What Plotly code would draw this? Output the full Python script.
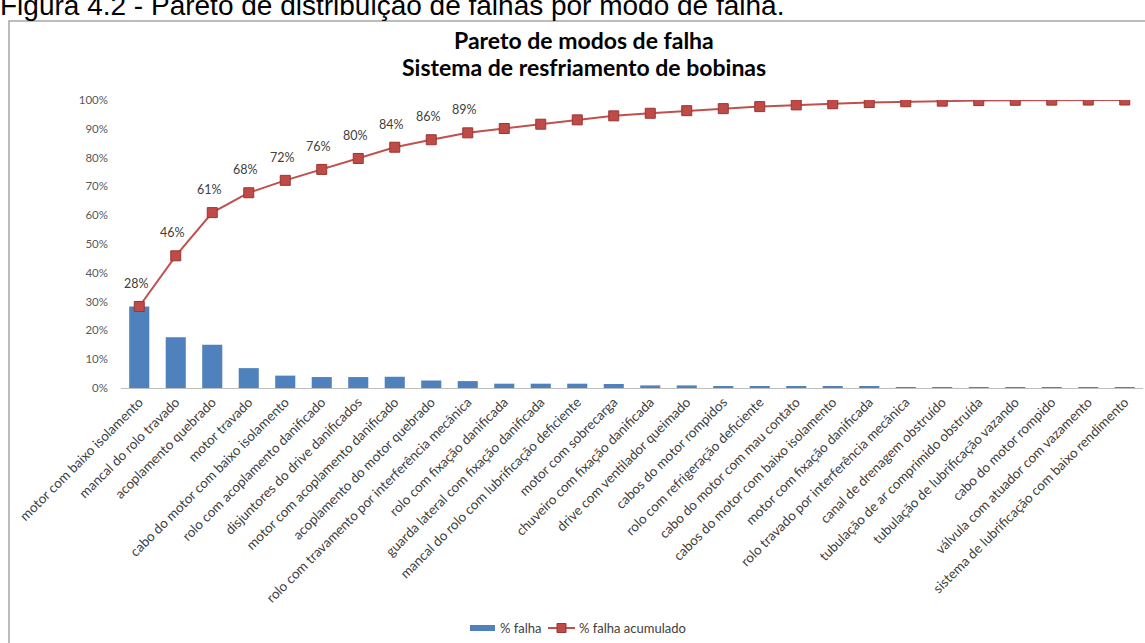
import plotly.graph_objects as go
import numpy as np

# Failure modes, ordered from most to least frequent
modos = [
    "motor com baixo isolamento",
    "mancal do rolo travado",
    "acoplamento quebrado",
    "motor travado",
    "cabo do motor com baixo isolamento",
    "rolo com acoplamento danificado",
    "disjuntores do drive danificados",
    "motor com acoplamento danificado",
    "acoplamento do motor quebrado",
    "rolo com travamento por interferência mecânica",
    "rolo com fixação danificada",
    "guarda lateral com fixação danificada",
    "mancal do rolo com lubrificação deficiente",
    "motor com sobrecarga",
    "chuveiro com fixação danificada",
    "drive com ventilador queimado",
    "cabos do motor rompidos",
    "rolo com refrigeração deficiente",
    "cabo do motor com mau contato",
    "cabos do motor com baixo isolamento",
    "motor com fixação danificada",
    "rolo travado por interferência mecânica",
    "canal de drenagem obstruído",
    "tubulação de ar comprimido obstruída",
    "tubulação de lubrificação vazando",
    "cabo do motor rompido",
    "válvula com atuador com vazamento",
    "sistema de lubrificação com baixo rendimento",
]

# Share of failures per mode (%)
pct_falha = [
    28.3, 17.6, 15.0, 6.9, 4.3, 3.8, 3.8, 3.9, 2.6, 2.4,
    1.5, 1.5, 1.5, 1.4, 0.9, 0.9, 0.7, 0.7, 0.6, 0.4,
    0.4, 0.3, 0.2, 0.2, 0.1, 0.05, 0.03, 0.02,
]

# Number of leading points that carry a value label
n_rotulos = 10

pct_acum = np.cumsum(pct_falha)

BLUE = "#4F81BD"
RED = "#C0504D"
MARKER = "#BE4B48"
MARKER_EDGE = "#9A3532"
FONT = "Lato"

W, H = 1145, 643
L, R, T, B = 121, 2, 100, 255
pw, ph = W - L - R, H - T - B


def px_x(px):
    """Convert a pixel column into paper coordinates."""
    return (px - L) / pw


def px_y(py):
    """Convert a pixel row into paper coordinates."""
    return (H - B - py) / ph


fig = go.Figure()

fig.add_trace(go.Bar(
    x=modos, y=pct_falha, name="% falha",
    marker=dict(color=BLUE, line=dict(width=0)),
    width=0.55, showlegend=False,
))

fig.add_trace(go.Scatter(
    x=modos, y=pct_acum, name="% falha acumulado",
    mode="lines+markers",
    line=dict(color=RED, width=2),
    marker=dict(symbol="square", size=10, color=MARKER,
                line=dict(color=MARKER_EDGE, width=1)),
    showlegend=False,
))

# Cumulative value labels on the first points
for m, v in zip(modos[:n_rotulos], pct_acum[:n_rotulos]):
    fig.add_annotation(
        x=m, y=v, xref="x", yref="y",
        text=f"{round(v):d}%", showarrow=False,
        yshift=23, xshift=-3,
        font=dict(family=FONT, size=12.5, color="#404040"),
    )

# Chart title (two centred lines)
for txt, py in [("Pareto de modos de falha", 40),
                ("Sistema de resfriamento de bobinas", 67)]:
    fig.add_annotation(
        x=px_x(584), y=px_y(py), xref="paper", yref="paper",
        xanchor="center", yanchor="middle", showarrow=False,
        text=f"<b>{txt}</b>",
        font=dict(family=FONT, size=23, color="#000000"),
    )

# Document caption above the chart frame
fig.add_annotation(
    x=px_x(-2), y=px_y(23), xref="paper", yref="paper",
    xanchor="left", yanchor="bottom", showarrow=False,
    text="Figura 4.2 - Pareto de distribuição de falhas por modo de falha.",
    font=dict(family="Liberation Sans", size=28, color="#000000"),
)

# Chart frame
fig.add_shape(
    type="rect", xref="paper", yref="paper",
    x0=px_x(9), x1=px_x(1160), y0=px_y(21), y1=px_y(700),
    line=dict(color="#A6A6A6", width=1.5), fillcolor="rgba(0,0,0,0)",
    layer="below",
)

# Legend at the bottom: bar swatch and line-with-marker swatch
ly = px_y(628)
fig.add_shape(type="rect", xref="paper", yref="paper",
              x0=px_x(470), x1=px_x(495), y0=px_y(631), y1=px_y(625),
              line=dict(width=0), fillcolor=BLUE)
fig.add_annotation(x=px_x(498), y=ly, xref="paper", yref="paper",
                   xanchor="left", yanchor="middle", showarrow=False,
                   text="% falha",
                   font=dict(family=FONT, size=13, color="#404040"))
fig.add_shape(type="line", xref="paper", yref="paper",
              x0=px_x(548), x1=px_x(575), y0=ly, y1=ly,
              line=dict(color=RED, width=2))
fig.add_shape(type="rect", xref="paper", yref="paper",
              x0=px_x(557), x1=px_x(566), y0=px_y(632.5), y1=px_y(623.5),
              line=dict(color=MARKER_EDGE, width=1), fillcolor=MARKER)
fig.add_annotation(x=px_x(577), y=ly, xref="paper", yref="paper",
                   xanchor="left", yanchor="middle", showarrow=False,
                   text="% falha acumulado",
                   font=dict(family=FONT, size=13, color="#404040"))

fig.update_layout(
    width=W, height=H,
    margin=dict(l=L, r=R, t=T, b=B, autoexpand=False),
    paper_bgcolor="white", plot_bgcolor="white",
    font=dict(family=FONT, color="#404040"),
    showlegend=False,
    bargap=0.45,
)

fig.update_xaxes(
    range=[-0.5, len(modos) - 0.5],
    tickangle=-45, automargin=False,
    tickfont=dict(family=FONT, size=13.5, color="#404040"),
    showline=True, linecolor="#BFBFBF", linewidth=1,
    showgrid=False, ticks="",
)

fig.update_yaxes(
    range=[0, 100], dtick=10, ticksuffix="%", automargin=False,
    tickfont=dict(family=FONT, size=11.5, color="#595959"),
    showgrid=False, zeroline=False, showline=False,
    ticks="", ticklabelstandoff=12,
)

fig.write_html("out.html")
